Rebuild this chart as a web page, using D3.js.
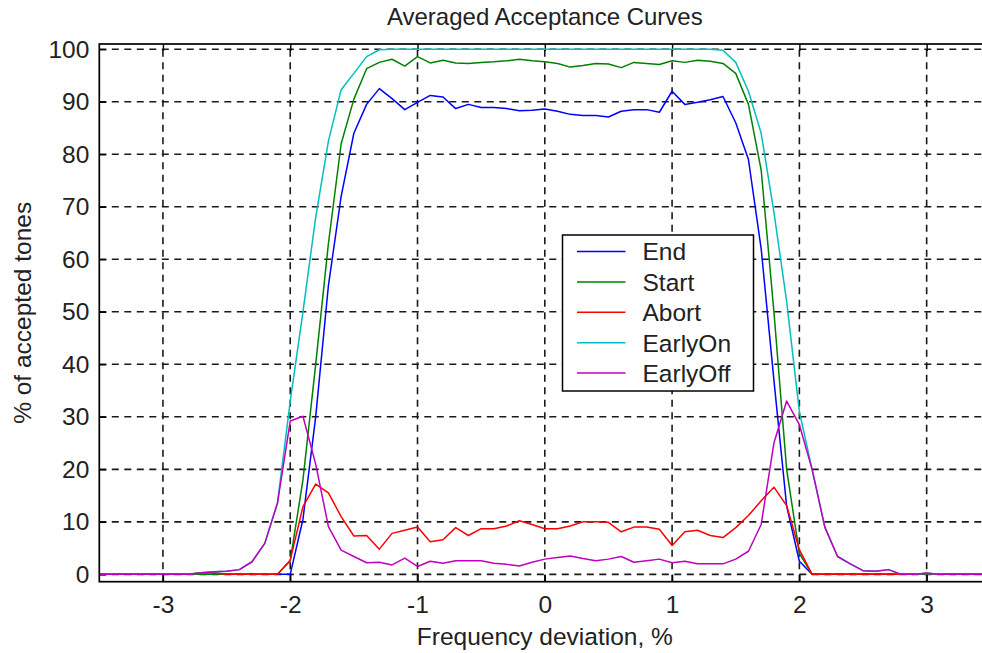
<!DOCTYPE html>
<html>
<head>
<meta charset="utf-8">
<script src="https://cdn.jsdelivr.net/npm/d3@7"></script>
<style>
  html, body { margin: 0; padding: 0; background: #fff; }
  svg { display: block; }
  text { font-family: "Liberation Sans", Arial, sans-serif; fill: #222; }
</style>
</head>
<body>
<svg id="chart" width="982" height="653"></svg>
<script>
// ---- data ----
const freq = [-3.5,-3.4,-3.3,-3.2,-3.1,-3.0,-2.9,-2.8,-2.7,-2.6,-2.5,-2.4,-2.3,-2.2,-2.1,
  -2.0,-1.9,-1.8,-1.7,-1.6,-1.5,-1.4,-1.3,-1.2,-1.1,-1.0,-0.9,-0.8,-0.7,-0.6,-0.5,-0.4,-0.3,-0.2,-0.1,
  0.0,0.1,0.2,0.3,0.4,0.5,0.6,0.7,0.8,0.9,1.0,1.1,1.2,1.3,1.4,1.5,1.6,1.7,1.8,1.9,
  2.0,2.1,2.2,2.3,2.4,2.5,2.6,2.7,2.8,2.9,3.0,3.1,3.2,3.3,3.4,3.5];

const endVals = [0,0,0,0,0,0,0,0,0,0,0,0,0,0,0,
  0,10.5,30,55,72,84,89.5,92.5,90.6,88.5,89.9,91.2,90.9,88.7,89.5,88.9,88.9,88.7,88.3,88.4,
  88.6,88.2,87.6,87.4,87.4,87.1,88.2,88.5,88.5,88.0,92.0,89.5,89.9,90.4,91.0,86,79,62,37,13,
  2.5,0,0,0,0,0,0,0,0,0,0,0,0,0,0,0];

const startVals = [0,0,0,0,0,0,0,0,0,0,0,0,0,0,0,
  2.6,18,40,63,82,90.5,96.3,97.5,98.1,96.8,98.6,97.4,97.9,97.4,97.3,97.5,97.6,97.8,98.1,97.8,
  97.6,97.3,96.6,96.9,97.3,97.2,96.5,97.5,97.3,97.1,97.8,97.5,97.9,97.7,97.3,95.4,89.5,77,50,20,
  4,0,0,0,0,0,0,0,0,0,0,0,0,0,0,0];

const abortVals = [0,0,0,0,0,0,0,0,0.3,0.3,0,0,0,0,0,
  2.7,12.9,17.2,15.5,11,7.3,7.4,4.8,7.8,8.4,9.0,6.2,6.6,8.9,7.4,8.7,8.7,9.2,10.2,9.5,
  8.7,8.7,9.2,10.0,10.0,9.9,8.1,9.0,9.0,8.6,5.5,8.1,8.4,7.4,7.0,8.9,11.2,14.0,16.6,13.1,
  4.7,0,0,0,0,0,0,0,0,0,0.2,0,0,0,0,0];

const earlyOnVals = [0,0,0,0,0,0,0,0,0.3,0.5,0.6,0.9,2.4,5.9,13.6,
  33,50,68,82.5,92.3,95.4,98.6,99.9,100,100,100,100,100,100,100,100,100,100,100,100,
  100,100,100,100,100,100,100,100,100,100,100,100,100,100,99.8,97.5,92,84,69,52,
  31,20,9,3.4,2.0,0.7,0.6,0.9,0,0,0.2,0,0,0,0,0];

const earlyOffVals = [0,0,0,0,0,0,0,0,0.3,0.5,0.6,0.9,2.4,5.9,13.6,
  29.2,30.1,21,9.1,4.6,3.4,2.2,2.3,1.8,3.1,1.5,2.5,2.1,2.6,2.6,2.6,2.1,1.9,1.6,2.3,
  2.9,3.2,3.5,3.0,2.6,2.9,3.4,2.3,2.6,2.9,2.2,2.5,2.0,2.0,2.0,2.9,4.4,9.5,25,33,
  28.5,20,9,3.4,2.0,0.7,0.6,0.9,0,0,0.2,0,0,0,0,0];

const seriesNames = ["End", "Start", "Abort", "EarlyOn", "EarlyOff"];
const seriesValues = [endVals, startVals, abortVals, earlyOnVals, earlyOffVals];
const seriesColors = ["#0000ff", "#008000", "#ff0000", "#00bfbf", "#bf00bf"];

const xTicks = [-3, -2, -1, 0, 1, 2, 3];
const yTicks = [0, 10, 20, 30, 40, 50, 60, 70, 80, 90, 100];

const titleText = "Averaged Acceptance Curves";
const xLabelText = "Frequency deviation, %";
const yLabelText = "% of accepted tones";

// ---- layout ----
const svg = d3.select("#chart");
const L = 99.3, R = 990.3, T = 44, B = 581.7;

const x = d3.scaleLinear().domain([-3.5, 3.5]).range([L, R]);
const y = d3.scaleLinear().domain([-1.4, 101]).range([B, T]);

svg.append("defs").append("clipPath").attr("id", "plotclip")
  .append("rect").attr("x", L).attr("y", T).attr("width", R - L).attr("height", B - T);

// grid
const grid = svg.append("g");
grid.selectAll("line.hg").data(yTicks).join("line")
  .attr("x1", L).attr("x2", R)
  .attr("y1", d => y(d)).attr("y2", d => y(d))
  .attr("stroke", "#1a1a1a").attr("stroke-width", 1.6)
  .attr("stroke-dasharray", "7,5.5");
grid.selectAll("line.vg").data(xTicks).join("line")
  .attr("y1", B).attr("y2", T)
  .attr("x1", d => x(d)).attr("x2", d => x(d))
  .attr("stroke", "#1a1a1a").attr("stroke-width", 1.6)
  .attr("stroke-dasharray", "7,5.5");

// axes (inward ticks, box)
const plainFmt = d => String(d);
const xAxisB = d3.axisBottom(x).tickValues(xTicks).tickSize(-7).tickPadding(14)
  .tickFormat(plainFmt);
const xAxisT = d3.axisTop(x).tickValues(xTicks).tickSize(-7).tickFormat("");
const yAxisL = d3.axisLeft(y).tickValues(yTicks).tickSize(-7).tickPadding(10)
  .tickFormat(plainFmt);
const yAxisR = d3.axisRight(y).tickValues(yTicks).tickSize(-7).tickFormat("");

function styleAxis(g) {
  g.select(".domain").remove();
  g.selectAll(".tick line").attr("stroke", "#000").attr("stroke-width", 1.4);
  g.selectAll(".tick text").attr("fill", "#222")
    .style("font-family", '"Liberation Sans", Arial, sans-serif')
    .style("font-size", "24.5px");
}
svg.append("g").attr("transform", `translate(0,${B})`).call(xAxisB).call(styleAxis);
svg.append("g").attr("transform", `translate(0,${T})`).call(xAxisT).call(styleAxis);
svg.append("g").attr("transform", `translate(${L},0)`).call(yAxisL).call(styleAxis);
svg.append("g").attr("transform", `translate(${R},0)`).call(yAxisR).call(styleAxis);

// lines
const line = d3.line().x(d => x(d[0])).y(d => y(d[1]));
const plot = svg.append("g").attr("clip-path", "url(#plotclip)");
seriesValues.forEach((vals, i) => {
  plot.append("path")
    .datum(freq.map((f, k) => [f, vals[k]]))
    .attr("d", line)
    .attr("fill", "none")
    .attr("stroke", seriesColors[i])
    .attr("stroke-width", 1.5)
    .attr("stroke-linejoin", "round");
});

// box
svg.append("rect").attr("x", L).attr("y", T).attr("width", R - L).attr("height", B - T)
  .attr("fill", "none").attr("stroke", "#000").attr("stroke-width", 1.7);

// title & labels
svg.append("text").attr("x", (L + R) / 2).attr("y", 25)
  .attr("text-anchor", "middle").style("font-size", "24px").text(titleText);
svg.append("text").attr("x", (L + R) / 2).attr("y", 645)
  .attr("text-anchor", "middle").style("font-size", "24.5px").text(xLabelText);
svg.append("text")
  .attr("transform", `translate(31,${(T + B) / 2}) rotate(-90)`)
  .attr("text-anchor", "middle").style("font-size", "24.5px").text(yLabelText);

// legend
const lg = svg.append("g");
const lgX = 562.5, lgY = 235, lgW = 191, lgH = 156, rowH = 30.4, row0 = 251.5;
lg.append("rect").attr("x", lgX).attr("y", lgY).attr("width", lgW).attr("height", lgH)
  .attr("fill", "#fff").attr("stroke", "#000").attr("stroke-width", 1.5);
seriesNames.forEach((name, i) => {
  const cy = row0 + i * rowH;
  lg.append("line").attr("x1", lgX + 14.5).attr("x2", lgX + 63)
    .attr("y1", cy).attr("y2", cy)
    .attr("stroke", seriesColors[i]).attr("stroke-width", 1.5);
  lg.append("text").attr("x", lgX + 80).attr("y", cy).attr("dy", "0.36em")
    .style("font-size", "24.5px").text(name);
});
</script>
</body>
</html>
